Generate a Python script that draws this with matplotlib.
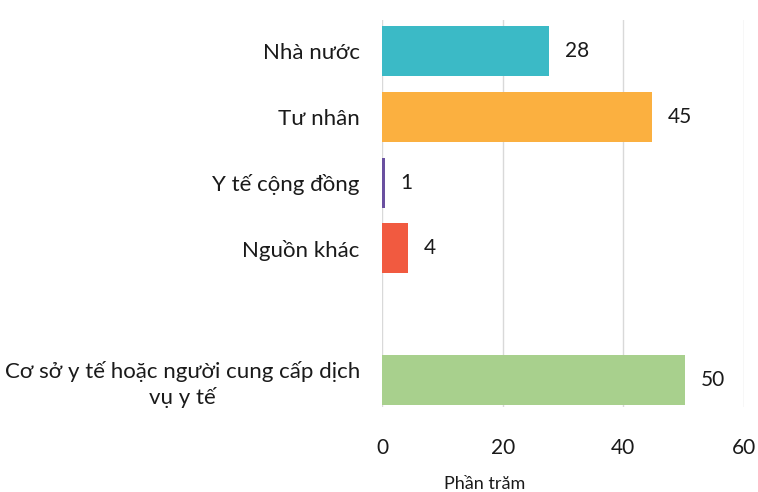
import matplotlib
matplotlib.use("Agg")
import matplotlib.pyplot as plt

plt.rcParams['font.family'] = ['Lato', 'Noto Sans', 'DejaVu Sans']

categories = ["Nhà nước", "Tư nhân", "Y tế cộng đồng", "Nguồn khác",
              "Cơ sở y tế hoặc người cung cấp dịch\nvụ y tế"]
values = [27.7, 44.7, 0.5, 4.3, 50.2]
labels = ["28", "45", "1", "4", "50"]
positions = [0, 1, 2, 3, 5]
colors = ["#3BBAC6", "#FBB040", "#6A50A0", "#F15A40", "#A8D08D"]
xticks = [0, 20, 40, 60]
xlabel = "Phần trăm"

fig = plt.figure(figsize=(7.58, 4.92), dpi=100)
ax = fig.add_axes([382/758, 1 - 407/492, (744-382)/758, (407-20)/492])

ax.barh(positions, values, height=0.76, color=colors, zorder=3)
for p, v, lab in zip(positions, values, labels):
    ax.text(v + 2.6, p, lab, va='center', ha='left', fontsize=15, color='#1a1a1a')

ax.set_xlim(0, 60)
ax.set_ylim(5.41, -0.47)
ax.set_xticks(xticks)
ax.set_xticklabels([str(t) for t in xticks], fontsize=15, color='#1a1a1a')
ax.set_yticks(positions)
ax.set_yticklabels(categories, fontsize=16, color='#1a1a1a',
                   multialignment='center', linespacing=1.3)
ax.tick_params(axis='both', length=0)
ax.tick_params(axis='x', pad=22)
ax.tick_params(axis='y', pad=16)
ax.xaxis.grid(True, color='#D9D9D9', linewidth=1, zorder=0)
for s in ax.spines.values():
    s.set_visible(False)

fig.text(485/758, 1 - 489/492, xlabel, ha='center', va='baseline', fontsize=13, color='#1a1a1a')

fig.savefig("out.png", dpi=100)
